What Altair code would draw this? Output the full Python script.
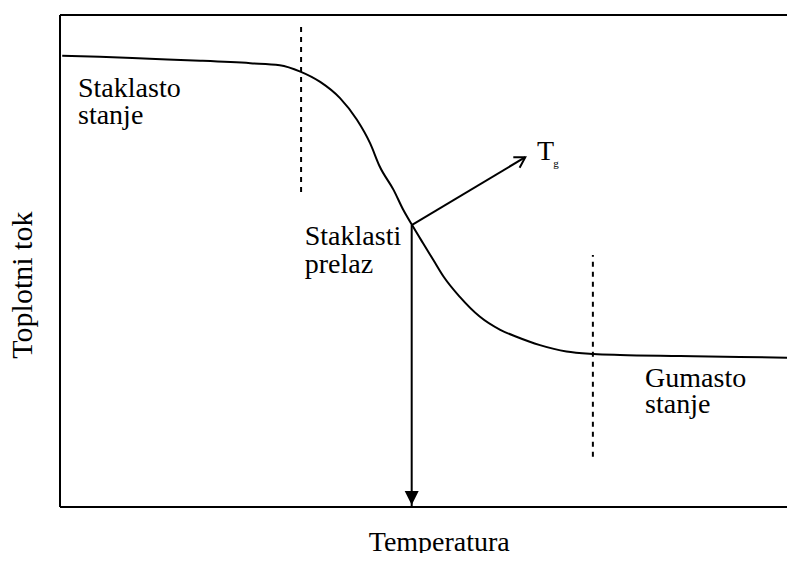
import math
import altair as alt
import pandas as pd

# ---- data (arbitrary units: 0-100 on both axes) ----
temperature = [0.3, 5.4, 12.2, 19.1, 25.9, 29.9, 32.7, 35.4, 38.1, 40.4, 42.2, 43.5, 45.4,
               46.7, 47.9, 49.4, 50.8, 52.2, 54.4, 57.1, 59.9, 62.1, 65.3, 68.9, 72.6,
               76.2, 84.4, 92.5, 100.0]
heat_flow = [91.7, 91.5, 91.1, 90.7, 90.2, 89.8, 88.5, 86.4, 83.1, 78.7, 73.9, 69.2, 64.4,
             60.4, 57.3, 53.6, 50.2, 46.8, 42.7, 38.7, 36.0, 34.6, 32.9, 31.6, 31.1,
             30.9, 30.7, 30.5, 30.3]

# region boundaries (dashed)
boundary_T = [32.8, 72.5]
boundary_top = [98.6, 51.2]
boundary_bottom = [64.0, 10.2]

# glass transition point and the Tg pointer
tg_T, tg_H = 47.85, 57.3
tg_arrow_end_T, tg_arrow_end_H = 63.3, 71.1

# annotations
label_text = ["Staklasto", "stanje", "Staklasti", "prelaz", "Gumasto", "stanje", "T"]
label_T = [2.45, 2.45, 33.3, 33.3, 79.6, 79.6, 64.9]
label_H = [83.3, 77.85, 53.25, 47.6, 24.4, 19.1, 70.5]
sub_text = ["g"]
sub_T = [67.1]
sub_H = [69.1]

# axis titles (placed outside the plotting frame)
x_title, x_title_T, x_title_H = "Temperatura", 51.6, -9.0
y_title, y_title_T, y_title_H = "Toplotni tok", -3.8, 45.1

W, H = 727, 492
X_MAX = 100 * 727 / 735  # visible part of the temperature axis
FONT = "Liberation Serif"

curve_df = pd.DataFrame({"T": temperature, "H": heat_flow})
bound_df = pd.DataFrame({"T": boundary_T, "H": boundary_bottom, "H2": boundary_top})
tg_df = pd.DataFrame({"T": [tg_T], "H": [tg_H], "T2": [tg_arrow_end_T], "H2": [tg_arrow_end_H]})
vert_df = pd.DataFrame({"T": [tg_T], "H": [0.0], "H2": [tg_H]})
head_down_df = pd.DataFrame({"T": [tg_T], "H": [0.4]})
head_tg_df = pd.DataFrame({"T": [tg_arrow_end_T], "H": [tg_arrow_end_H]})
hframe_df = pd.DataFrame({"T": [0.0, 0.0], "T2": [X_MAX, X_MAX], "H": [0.0, 100.0]})
vframe_df = pd.DataFrame({"T": [0.0], "H": [0.0], "H2": [100.0]})
lab_df = pd.DataFrame({"T": label_T, "H": label_H, "text": label_text})
sub_df = pd.DataFrame({"T": sub_T, "H": sub_H, "text": sub_text})
xt_df = pd.DataFrame({"T": [x_title_T], "H": [x_title_H], "text": [x_title]})
yt_df = pd.DataFrame({"T": [y_title_T], "H": [y_title_H], "text": [y_title]})

xs = alt.Scale(domain=[0, X_MAX], nice=False, zero=False)
ys = alt.Scale(domain=[0, 100], nice=False, zero=False)


def X(field="T"):
    return alt.X(f"{field}:Q", scale=xs, axis=None)


def Y(field="H"):
    return alt.Y(f"{field}:Q", scale=ys, axis=None)


curve = alt.Chart(curve_df).mark_line(color="black", strokeWidth=2, interpolate="monotone").encode(x=X(), y=Y())
bounds = alt.Chart(bound_df).mark_rule(color="black", strokeWidth=2, strokeDash=[5, 5]).encode(x=X(), y=Y(), y2="H2:Q")
tg_line = alt.Chart(tg_df).mark_rule(color="black", strokeWidth=2).encode(x=X(), y=Y(), x2="T2:Q", y2="H2:Q")
vert_line = alt.Chart(vert_df).mark_rule(color="black", strokeWidth=2).encode(x=X(), y=Y(), y2="H2:Q")
hframe = alt.Chart(hframe_df).mark_rule(color="black", strokeWidth=2).encode(x=X(), x2="T2:Q", y=Y())
vframe = alt.Chart(vframe_df).mark_rule(color="black", strokeWidth=2).encode(x=X(), y=Y(), y2="H2:Q")

# direction of the Tg pointer in screen space (clockwise from north)
dx = (tg_arrow_end_T - tg_T) * W / X_MAX
dy = (tg_arrow_end_H - tg_H) * H / 100
tg_angle = 90 - math.degrees(math.atan2(dy, dx))

head_tg = alt.Chart(head_tg_df).mark_point(
    shape="M-0.6,1L0,0L0.6,1", filled=False, size=420, stroke="black", strokeWidth=2,
    opacity=1, angle=tg_angle,
).encode(x=X(), y=Y())
head_down = alt.Chart(head_down_df).mark_point(
    shape="M-0.5,-1L0,0L0.5,-1Z", filled=True, size=784, color="black", opacity=1,
).encode(x=X(), y=Y())
labels = alt.Chart(lab_df).mark_text(
    align="left", baseline="alphabetic", font=FONT, fontSize=28, color="black"
).encode(x=X(), y=Y(), text="text:N")
subs = alt.Chart(sub_df).mark_text(
    align="left", baseline="alphabetic", font=FONT, fontSize=11, color="black"
).encode(x=X(), y=Y(), text="text:N")
xt = alt.Chart(xt_df).mark_text(
    align="center", baseline="alphabetic", font=FONT, fontSize=28, color="black"
).encode(x=X(), y=Y(), text="text:N")
yt = alt.Chart(yt_df).mark_text(
    align="center", baseline="alphabetic", font=FONT, fontSize=30, color="black", angle=270
).encode(x=X(), y=Y(), text="text:N")

chart = alt.layer(
    curve, bounds, tg_line, vert_line, hframe, vframe, head_tg, head_down,
    labels, subs, xt, yt
).properties(
    width=W, height=H,
    autosize=alt.AutoSizeParams(type="none"),
    padding={"left": 52, "top": 7, "right": 0, "bottom": 46},
).configure_view(stroke=None)

chart.save("out.html", embed_options={"renderer": "svg", "actions": False})
